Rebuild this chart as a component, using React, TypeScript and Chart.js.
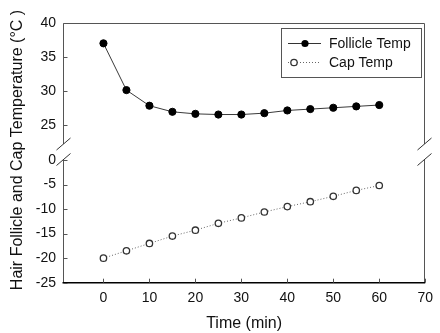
import React, { useEffect, useRef } from 'react';
import { Chart, registerables } from 'chart.js';

Chart.register(...registerables);

const timeMin = [0, 5, 10, 15, 20, 25, 30, 35, 40, 45, 50, 55, 60];
const follicleTemp = [37.0, 30.1, 27.8, 26.9, 26.6, 26.5, 26.5, 26.7, 27.1, 27.3, 27.5, 27.7, 27.9];
const capTemp = [-20.0, -18.5, -17.0, -15.5, -14.3, -12.9, -11.8, -10.6, -9.5, -8.5, -7.4, -6.2, -5.2];
const xTicks = [0, 10, 20, 30, 40, 50, 60, 70];
const upperTicks = [25, 30, 35, 40];
const lowerTicks = [-25, -20, -15, -10, -5, 0];
const seriesLabels = ['Follicle Temp', 'Cap Temp'];
const xTitle = 'Time (min)';
const yTitle = 'Hair Follicle and Cap Temperature (°C )';

const FONT = '"Liberation Sans", Arial, sans-serif';

export default function App() {
  const ref = useRef<HTMLCanvasElement>(null);

  useEffect(() => {
    const canvas = ref.current!;
    const frameColor = '#555';
    const textColor = '#111';

    const framePlugin = {
      id: 'frame',
      beforeDatasetsDraw(chart: any) {
        const { ctx, chartArea: ca, scales } = chart;
        const L = Math.round(ca.left) + 0.5;
        const R = Math.round(ca.right) - 0.5;
        const T = Math.round(ca.top) + 0.5;
        const B = ca.bottom;
        const gapTop = 144;
        const gapBot = 159.5;
        ctx.save();
        ctx.strokeStyle = frameColor;
        ctx.lineWidth = 1;
        ctx.beginPath();
        // left axis with break
        ctx.moveTo(L, T);
        ctx.lineTo(L, gapTop);
        ctx.moveTo(L, gapBot);
        ctx.lineTo(L, B);
        // top frame
        ctx.moveTo(L, T);
        ctx.lineTo(R, T);
        // right frame with break
        ctx.moveTo(R, T);
        ctx.lineTo(R, gapTop);
        ctx.moveTo(R, gapBot);
        ctx.lineTo(R, B);
        ctx.stroke();
        // break slashes
        ctx.strokeStyle = '#333';
        ctx.beginPath();
        for (const x of [L, R]) {
          for (const y of [gapTop, gapBot]) {
            ctx.moveTo(x - 7, y + 6);
            ctx.lineTo(x + 7, y - 6);
          }
        }
        ctx.stroke();
        // bottom axis
        ctx.strokeStyle = '#000';
        ctx.lineWidth = 1.5;
        ctx.beginPath();
        ctx.moveTo(ca.left - 0.5, B);
        ctx.lineTo(ca.right, B);
        ctx.stroke();
        // inward tick marks
        ctx.strokeStyle = frameColor;
        ctx.lineWidth = 1;
        ctx.beginPath();
        const yTop = scales.yTop;
        const yBot = scales.yBot;
        for (const v of upperTicks) {
          const y = Math.round(yTop.getPixelForValue(v)) + 0.5;
          ctx.moveTo(L, y);
          ctx.lineTo(L + 4, y);
        }
        for (const v of lowerTicks) {
          const y = Math.round(yBot.getPixelForValue(v)) + 0.5;
          ctx.moveTo(L, y);
          ctx.lineTo(L + 4, y);
        }
        for (const v of xTicks) {
          const x = Math.round(scales.x.getPixelForValue(v)) + 0.5;
          ctx.moveTo(x, B);
          ctx.lineTo(x, B - 4);
        }
        ctx.stroke();
        ctx.restore();
      },
      afterDraw(chart: any) {
        const { ctx, chartArea: ca } = chart;
        ctx.save();
        // Axis titles
        ctx.fillStyle = textColor;
        ctx.font = `16px ${FONT}`;
        ctx.textAlign = 'center';
        ctx.textBaseline = 'middle';
        ctx.fillText(xTitle, (ca.left + ca.right) / 2, 324);
        ctx.save();
        ctx.translate(18, 150);
        ctx.rotate(-Math.PI / 2);
        ctx.fillText(yTitle, 0, 0);
        ctx.restore();

        // Legend box
        ctx.strokeStyle = frameColor;
        ctx.lineWidth = 1;
        ctx.strokeRect(281.5, 28.5, 140, 49);
        // Follicle sample
        ctx.strokeStyle = '#333';
        ctx.beginPath();
        ctx.moveTo(288, 43.5);
        ctx.lineTo(321, 43.5);
        ctx.stroke();
        ctx.fillStyle = '#000';
        ctx.beginPath();
        ctx.arc(305, 43.5, 3.6, 0, Math.PI * 2);
        ctx.fill();
        // Cap sample
        ctx.strokeStyle = '#666';
        ctx.setLineDash([1, 2]);
        ctx.beginPath();
        ctx.moveTo(288, 62.5);
        ctx.lineTo(321, 62.5);
        ctx.stroke();
        ctx.setLineDash([]);
        ctx.fillStyle = '#fff';
        ctx.strokeStyle = '#333';
        ctx.lineWidth = 1.3;
        ctx.beginPath();
        ctx.arc(294, 62.5, 3.2, 0, Math.PI * 2);
        ctx.fill();
        ctx.stroke();
        // Legend texts
        ctx.fillStyle = textColor;
        ctx.font = `14px ${FONT}`;
        ctx.textAlign = 'left';
        ctx.textBaseline = 'middle';
        ctx.fillText(seriesLabels[0], 329, 44);
        ctx.fillText(seriesLabels[1], 329, 63);
        ctx.restore();
      },
    };

    const tickFont = { family: FONT, size: 14 };

    const chart = new Chart(canvas, {
      type: 'line',
      data: {
        datasets: [
          {
            label: seriesLabels[0],
            data: timeMin.map((t, i) => ({ x: t, y: follicleTemp[i] })),
            yAxisID: 'yTop',
            borderColor: '#3a3a3a',
            borderWidth: 1,
            pointRadius: 3.6,
            pointBackgroundColor: '#000',
            pointBorderColor: '#000',
            pointBorderWidth: 1,
            tension: 0,
            fill: false,
          },
          {
            label: seriesLabels[1],
            data: timeMin.map((t, i) => ({ x: t, y: capTemp[i] })),
            yAxisID: 'yBot',
            borderColor: '#666',
            borderWidth: 1,
            borderDash: [1, 2],
            pointRadius: 3.2,
            pointBackgroundColor: '#fff',
            pointBorderColor: '#333',
            pointBorderWidth: 1.3,
            tension: 0,
            fill: false,
          },
        ],
      },
      options: {
        responsive: false,
        animation: false,
        layout: { padding: { top: 23, right: 7.5, left: 0, bottom: 0 } },
        plugins: { legend: { display: false }, tooltip: { enabled: false } },
        scales: {
          x: {
            type: 'linear',
            min: -8.8,
            max: 70,
            afterBuildTicks: (s: any) => {
              s.ticks = xTicks.map((v) => ({ value: v }));
            },
            afterFit: (s: any) => {
              s.height = 50.3;
            },
            grid: { display: false, drawTicks: false },
            border: { display: false },
            ticks: { padding: 7, font: tickFont, color: textColor, autoSkip: false, maxRotation: 0 },
          },
          yBot: {
            type: 'linear',
            position: 'left',
            stack: 'y',
            stackWeight: 131.7,
            min: -25,
            max: 1.83,
            afterBuildTicks: (s: any) => {
              s.ticks = lowerTicks.map((v) => ({ value: v }));
            },
            afterFit: (s: any) => {
              s.width = 63;
            },
            grid: { display: false, drawTicks: false },
            border: { display: false },
            ticks: { padding: 7, font: tickFont, color: textColor, autoSkip: false },
          },
          yTop: {
            type: 'linear',
            position: 'left',
            stack: 'y',
            stackWeight: 128,
            min: 21.12,
            max: 40,
            afterBuildTicks: (s: any) => {
              s.ticks = upperTicks.map((v) => ({ value: v }));
            },
            afterFit: (s: any) => {
              s.width = 63;
            },
            grid: { display: false, drawTicks: false },
            border: { display: false },
            ticks: { padding: 7, font: tickFont, color: textColor, autoSkip: false },
          },
        },
      },
      plugins: [framePlugin],
    } as any);

    return () => chart.destroy();
  }, []);

  return (
    <div style={{ position: 'absolute', left: 0, top: 0, width: 440, height: 333, background: '#fff' }}>
      <canvas ref={ref} width={440} height={333} style={{ display: 'block' }} />
    </div>
  );
}
